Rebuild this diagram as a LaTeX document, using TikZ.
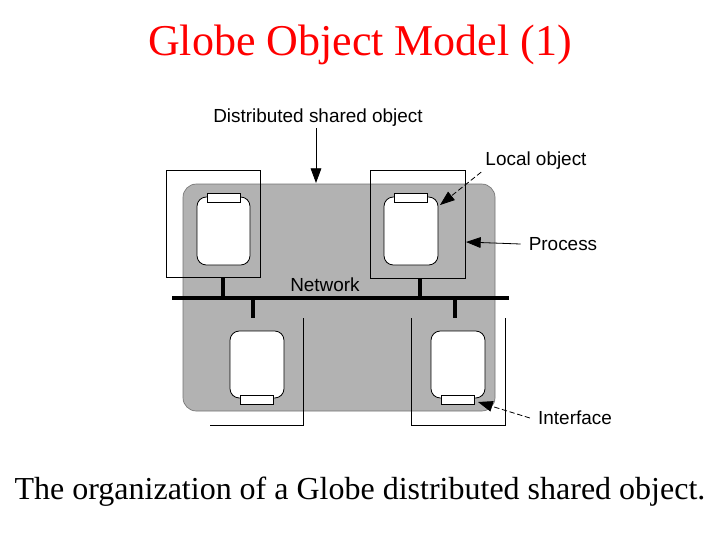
\documentclass[tikz,border=0pt]{standalone}
\usepackage{fontspec}
\setmainfont{Liberation Serif}
\newfontfamily\arial{Liberation Sans}
\usetikzlibrary{arrows.meta}
\begin{document}
\begin{tikzpicture}[x=0.75pt,y=-0.75pt,
  lbl/.style={font=\arial\fontsize{14.2}{16}\selectfont,inner sep=0},
  lobj/.style={draw,fill=white,rounded corners=7pt,line width=0.6pt},
  iface/.style={draw,fill=white,line width=0.6pt},
  proc/.style={draw,line width=0.7pt},
  arr/.style={-{Triangle[length=11pt,width=8pt]},line width=0.6pt},
  darr/.style={arr,dash pattern=on 4pt off 2pt}]
\useasboundingbox (0,0) rectangle (720,540);
\node[red,font=\fontsize{33}{37}\selectfont] (title) at (360,45) {Globe Object Model (1)};
\node[font=\fontsize{24}{28}\selectfont] (cap) at (360,492) {The organization of a Globe distributed shared object.};
\draw[fill=black!30,draw=black!55,line width=0.5pt,rounded corners=10pt] (183,184) rectangle (495,411);
% process boxes
\draw[proc] (166,170) rectangle (260,277);
\draw[proc] (370,170) rectangle (465,278);
\draw[proc] (210,425) -- (303,425) -- (303,318);
\draw[proc] (411,318) -- (411,425) -- (505,425) -- (505,318);
% local objects
\draw[lobj] (197,197) rectangle (250,265);
\draw[iface] (207,193) rectangle (240,202);
\draw[lobj] (384,197) rectangle (438,265);
\draw[iface] (394,193) rectangle (427,202);
\draw[lobj] (230,331) rectangle (284,398);
\draw[iface] (240,395) rectangle (273,404);
\draw[lobj] (431,331) rectangle (485,398);
\draw[iface] (441,395) rectangle (474,404);
% network
\draw[line width=3pt] (172,298) -- (509,298);
\draw[line width=2.5pt] (223,277) -- (223,298) (420,278) -- (420,298) (253,298) -- (253,318) (455,298) -- (455,318);
\node[lbl] (net) at (325,285) {Network};
% labels and arrows
\node[lbl] (dso) at (318,118) {Distributed shared object};
\node[lbl] (loc) at (536,161) {Local object};
\node[lbl] (pro) at (563,244) {Process};
\node[lbl] (int) at (575,418) {Interface};
\coordinate (a1) at (316,183);
\coordinate (a2) at (440,205);
\coordinate (a3) at (466,242);
\coordinate (a4) at (478,402);
\draw[arr] (316,128) -- (a1);
\draw[darr] (loc.south west) ++(-4,2) -- (a2);
\draw[arr] (pro.west) ++(-8,0) -- (a3);
\draw[darr] (int.west) ++(-8,0) -- (a4);
\end{tikzpicture}
\end{document}
